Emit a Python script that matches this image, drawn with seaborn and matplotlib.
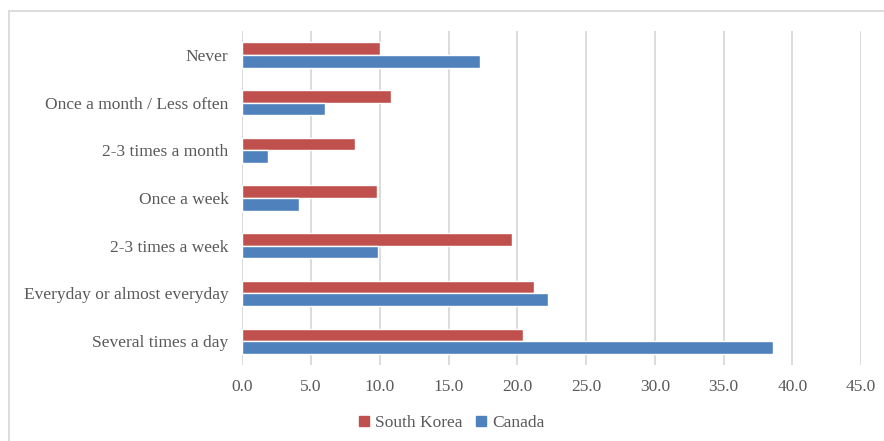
import pandas as pd
import matplotlib.pyplot as plt
import seaborn as sns
from matplotlib.patches import Rectangle

categories = ['Never', 'Once a month / Less often', '2-3 times a month', 'Once a week',
              '2-3 times a week', 'Everyday or almost everyday', 'Several times a day']
south_korea = [10.0, 10.8, 8.2, 9.8, 19.6, 21.2, 20.4]
canada = [17.3, 6.0, 1.9, 4.1, 9.9, 22.2, 38.6]
x_ticks = [0, 5, 10, 15, 20, 25, 30, 35, 40, 45]

df = pd.DataFrame({
    'categoria': categories * 2,
    'valor': south_korea + canada,
    'pais': ['South Korea'] * len(categories) + ['Canada'] * len(categories),
})

sns.set_style('white')
plt.rcParams['font.family'] = ['Liberation Serif', 'DejaVu Serif']
cinza = '#595959'
cores = ['#C0504D', '#4F81BD']

fig = plt.figure(figsize=(8.84, 4.41), dpi=100)
ax = fig.add_axes([0.2741, 0.1723, 0.6999, 0.7574])

sns.barplot(data=df, x='valor', y='categoria', hue='pais', orient='h',
            palette=cores, width=0.53, ax=ax, legend=False, saturation=1)

ax.set_xlim(0, 45)
ax.set_xticks(x_ticks)
ax.set_xticklabels([f'{v:.1f}' for v in x_ticks])
ax.xaxis.grid(True, color='#D9D9D9', linewidth=1.3)
ax.set_axisbelow(True)
for s in ax.spines.values():
    s.set_visible(False)
ax.set_xlabel('')
ax.set_ylabel('')
ax.tick_params(axis='both', length=0, labelsize=12.5, colors=cinza)
ax.tick_params(axis='y', pad=10)
ax.tick_params(axis='x', pad=10)

# legenda
handles = [plt.Line2D([], [], marker='s', linestyle='', color=c, markersize=7) for c in cores]
fig.legend(handles, ['South Korea', 'Canada'], loc='center', bbox_to_anchor=(450 / 884, 1 - 423 / 441),
           ncol=2, frameon=False, fontsize=12.5, labelcolor=cinza, handletextpad=0.1,
           columnspacing=0.6, handlelength=1.0)

# borda do gráfico
fig.patches.append(Rectangle((8.5 / 884, -0.1), 1.2, 1.1 - 11 / 441, transform=fig.transFigure,
                             fill=False, edgecolor='#D9D9D9', linewidth=1.3))

plt.savefig('out.png', dpi=100)
